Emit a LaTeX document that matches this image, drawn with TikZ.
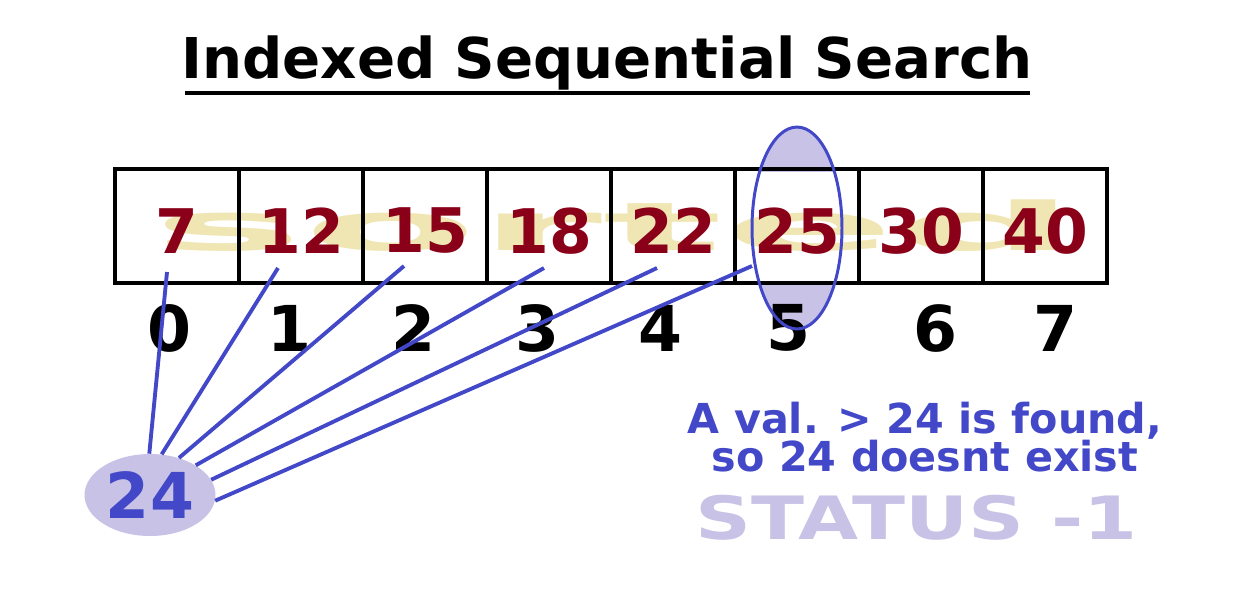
\documentclass[tikz,border=0pt]{standalone}
\usepackage{fontspec}
\setmainfont{DejaVu Sans}
\usetikzlibrary{shapes.geometric}
\definecolor{valred}{HTML}{8A0018}
\definecolor{inkblue}{HTML}{4248C8}
\definecolor{lav}{HTML}{C8C2E6}
\definecolor{wmark}{HTML}{F0E6B4}
\tikzset{
  cellbox/.style={minimum width=2.48cm, minimum height=2.26cm, inner sep=0pt},
  ringshape/.style={ellipse, minimum width=1.8cm, minimum height=4.04cm, inner sep=0pt},
  valtext/.style={text=valred, font=\bfseries\fontsize{35}{35}\selectfont},
  idxtext/.style={text=black, font=\bfseries\fontsize{36}{36}\selectfont},
  link/.style={draw=inkblue, line width=2.2pt},
  note/.style={text=inkblue, font=\bfseries\fontsize{23.5}{21.5}\selectfont, align=center},
}
\begin{document}
\begin{tikzpicture}[x=0.02cm, y=-0.02cm]
\useasboundingbox (0,0) rectangle (1240,596);
% title
\node[font=\bfseries\fontsize{32}{32}\selectfont] (title) at (607,63) {Indexed Sequential Search};
\draw[line width=2.8pt] (185,93) coordinate (ul1) -- (1030,93) coordinate (ul2);
% cells
\foreach \i in {0,...,7}{
  \node[cellbox] (c\i) at ({177+124*\i},226) {};
}
% ring fill, only outside the box
\begin{scope}
  \clip (0,0) rectangle (1240,171);
  \node[ringshape, fill=lav] (ringtop) at (797,228) {};
\end{scope}
\begin{scope}
  \clip (0,281) rectangle (1240,596);
  \node[ringshape, fill=lav] (ringbot) at (797,228) {};
\end{scope}
% watermark
\node[text=wmark, font=\bfseries\fontsize{38}{38}\selectfont, inner sep=0pt] (wm) at (615,226) {\scalebox{3.8}[1]{sorted}};
% cell borders
\foreach \i in {0,...,7}{
  \draw[line width=2.3pt] (c\i.north west) rectangle (c\i.south east);
}
% values
\foreach \v [count=\i from 0] in {7,12,15,18,22,25,30,40}{
  \node[valtext] (v\i) at ([yshift=-0.1cm]c\i.center) {\v};
}
% indices
\foreach \x [count=\i from 0] in {170,290,413,537,660,788,935,1055}{
  \node[idxtext] (n\i) at (\x,328) {\i};
}
% key
\node[ellipse, fill=lav, minimum width=2.62cm, minimum height=1.64cm, inner sep=0pt,
      text=inkblue, font=\bfseries\fontsize{36}{36}\selectfont] (key) at (150,495) {24};
% link end points
\coordinate (p0) at (167,272);
\coordinate (p1) at (278,268);
\coordinate (p2) at (404,266);
\coordinate (p3) at (544,268);
\coordinate (p4) at (657,268);
\coordinate (p5) at (752,266);
\draw[link] (key.91) -- (p0);
\draw[link] (key.74) -- (p1);
\draw[link] (key.52) -- (p2);
\draw[link] (key.33) -- (p3);
\draw[link] (key.14) -- (p4);
\draw[link] (key.-5) -- (p5);
% ring outline
\node[ringshape, draw=inkblue, line width=1.7pt] (ringline) at (797,228) {};
% notes
\node[note] (msg) at (925,437) {A val. > 24 is found,\\so 24 doesnt exist};
\node[text=lav, font=\bfseries\fontsize{34}{34}\selectfont] (status) at (917,518) {\scalebox{1.3}[1]{STATUS -1}};
\end{tikzpicture}
\end{document}
